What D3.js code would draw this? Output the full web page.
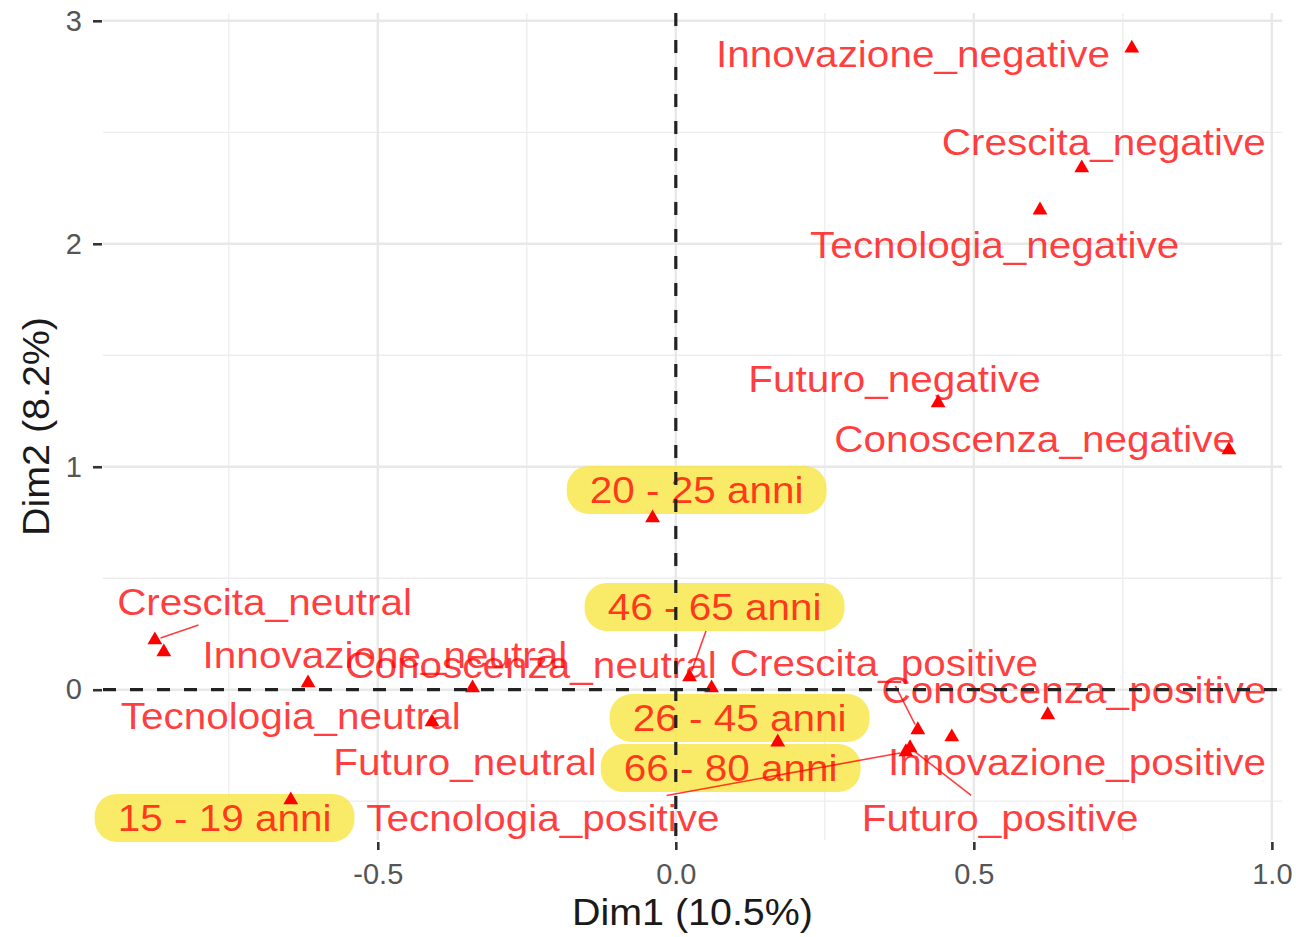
<!DOCTYPE html>
<html>
<head>
<meta charset="utf-8">
<script src="https://cdn.jsdelivr.net/npm/d3@7"></script>
<style>
  body { margin: 0; background: #fff; }
  svg { display: block; font-family: "Liberation Sans", Arial, sans-serif; }
</style>
</head>
<body>
<svg id="factor-map" width="1296" height="937"></svg>
<script>
"use strict";

// category labels, MCA coordinates and where the repelled label sits
const names = [
    "Innovazione_negative", "Crescita_negative", "Tecnologia_negative", "Futuro_negative", "Conoscenza_negative",
    "Crescita_neutral", "Innovazione_neutral", "Tecnologia_neutral", "Conoscenza_neutral", "Futuro_neutral",
    "Crescita_positive", "Conoscenza_positive", "Innovazione_positive", "Futuro_positive", "Tecnologia_positive",
    "15 - 19 anni", "20 - 25 anni", "26 - 45 anni", "46 - 65 anni", "66 - 80 anni"
];
const dim1 = [0.765, 0.681, 0.611, 0.440, 0.928,
    -0.874, -0.859, -0.617, -0.341, -0.409,
    0.406, 0.060, 0.624, 0.393, 0.386,
    -0.646, -0.039, 0.171, 0.023, 0.463];
const dim2 = [2.877, 2.340, 2.151, 1.286, 1.075,
    0.223, 0.169, 0.030, 0.008, -0.145,
    -0.180, 0.008, -0.113, -0.261, -0.279,
    -0.495, 0.770, -0.235, 0.057, -0.212];
const labelDim1 = [0.398, 0.718, 0.535, 0.367, 0.602,
    -0.690, -0.488, -0.646, -0.243, -0.354,
    0.349, 0.668, 0.673, 0.544, -0.223,
    -0.757, 0.035, 0.107, 0.065, 0.092];
const labelDim2 = [2.850, 2.456, 1.994, 1.393, 1.124,
    0.393, 0.155, -0.118, 0.111, -0.324,
    0.120, 0.000, -0.324, -0.575, -0.575,
    -0.575, 0.896, -0.127, 0.371, -0.351];
const isAgeGroup = [false, false, false, false, false,
    false, false, false, false, false,
    false, false, false, false, false,
    true, true, true, true, true];
const hasSegment = [false, false, false, false, false,
    true, false, false, false, false,
    true, false, false, true, true,
    false, false, false, true, false];

const xLimits = [-0.961, 1.017];
const yLimits = [-0.674, 3.035];
const xTicks = [-0.5, 0, 0.5, 1.0];
const yTicks = [0, 1, 2, 3];
const xMinor = [-0.75, -0.25, 0.25, 0.75];
const yMinor = [-0.5, 0.5, 1.5, 2.5];
const xTitle = "Dim1 (10.5%)";
const yTitle = "Dim2 (8.2%)";

const panelLeft = 103, panelRight = 1282, panelTop = 13, panelBottom = 840;
const stretch = 1.08;   // text in the original is a bit wider than the font

const svg = d3.select("svg#factor-map");

const xScale = d3.scaleLinear().domain(xLimits).range([panelLeft, panelRight]);
const yScale = d3.scaleLinear().domain(yLimits).range([panelBottom, panelTop]);

const rows = names.map((name, i) => ({
    name: name,
    x: dim1[i], y: dim2[i],
    lx: labelDim1[i], ly: labelDim2[i],
    boxed: isAgeGroup[i], seg: hasSegment[i]
}));

// grid
const grid = svg.append("g");
grid.selectAll("line.vminor").data(xMinor).join("line")
    .attr("x1", d => xScale(d)).attr("x2", d => xScale(d))
    .attr("y1", panelTop).attr("y2", panelBottom)
    .attr("stroke", "#ededed").attr("stroke-width", 1.3);
grid.selectAll("line.hminor").data(yMinor).join("line")
    .attr("y1", d => yScale(d)).attr("y2", d => yScale(d))
    .attr("x1", panelLeft).attr("x2", panelRight)
    .attr("stroke", "#ededed").attr("stroke-width", 1.3);
grid.selectAll("line.vmajor").data(xTicks).join("line")
    .attr("x1", d => xScale(d)).attr("x2", d => xScale(d))
    .attr("y1", panelTop).attr("y2", panelBottom)
    .attr("stroke", "#e8e8e8").attr("stroke-width", 2.4);
grid.selectAll("line.hmajor").data(yTicks).join("line")
    .attr("y1", d => yScale(d)).attr("y2", d => yScale(d))
    .attr("x1", panelLeft).attr("x2", panelRight)
    .attr("stroke", "#e8e8e8").attr("stroke-width", 2.4);

// axes
const xAxis = svg.append("g")
    .attr("transform", `translate(0,${panelBottom + 2})`)
    .call(d3.axisBottom(xScale).tickValues(xTicks).tickFormat(d => d.toFixed(1)).tickSize(8).tickPadding(13));
const yAxis = svg.append("g")
    .attr("transform", `translate(${panelLeft - 1},0)`)
    .call(d3.axisLeft(yScale).tickValues(yTicks).tickFormat(d => String(d)).tickSize(9).tickPadding(11));
[xAxis, yAxis].forEach(ax => {
    ax.select(".domain").remove();
    ax.selectAll(".tick line").attr("stroke", "#333").attr("stroke-width", 2.6);
    ax.selectAll(".tick text")
        .attr("fill", "#555")
        .style("font-size", "29px")
        .style("font-family", "'Liberation Sans', Arial, sans-serif");
});

svg.append("text")
    .attr("transform", `translate(${(panelLeft + panelRight) / 2},912) scale(${stretch},1)`)
    .attr("text-anchor", "middle").attr("dy", "0.35em")
    .attr("fill", "#1a1a1a").style("font-size", "36.5px")
    .text(xTitle);
svg.append("text")
    .attr("transform", `translate(36,${(panelTop + panelBottom) / 2}) rotate(-90) scale(${stretch},1)`)
    .attr("text-anchor", "middle").attr("dy", "0.35em")
    .attr("fill", "#1a1a1a").style("font-size", "36.5px")
    .text(yTitle);

const boxLayer = svg.append("g");
const pointLayer = svg.append("g");
const textLayer = svg.append("g");
const segLayer = svg.append("g");
const refLayer = svg.append("g");

// labels first, so the boxes can be sized from them
const labels = textLayer.selectAll("text").data(rows).join("text")
    .attr("transform", d => `translate(${xScale(d.lx)},${yScale(d.ly)}) scale(${stretch},1)`)
    .attr("text-anchor", "middle")
    .attr("dy", "0.35em")
    .attr("fill", "#ff0000")
    .attr("fill-opacity", 0.76)
    .style("font-size", "37.5px")
    .text(d => d.name);

labels.each(function(d) {
    const bb = this.getBBox();
    const cx = xScale(d.lx), cy = yScale(d.ly);
    d.cx = cx;
    d.cy = cy;
    if (d.boxed) {
        d.box = {
            x0: cx + bb.x * stretch - 23,
            x1: cx + (bb.x + bb.width) * stretch + 23,
            y0: cy - 24,
            y1: cy + 24
        };
    } else {
        d.box = {
            x0: cx + bb.x * stretch - 3,
            x1: cx + (bb.x + bb.width) * stretch + 3,
            y0: cy + bb.y - 2,
            y1: cy + bb.y + bb.height + 2
        };
    }
});

boxLayer.selectAll("rect").data(rows.filter(d => d.boxed)).join("rect")
    .attr("x", d => d.box.x0)
    .attr("y", d => d.box.y0)
    .attr("width", d => d.box.x1 - d.box.x0)
    .attr("height", d => d.box.y1 - d.box.y0)
    .attr("rx", 22).attr("ry", 22)
    .attr("fill", "#f8e646")
    .attr("fill-opacity", 0.82);

pointLayer.selectAll("path").data(rows).join("path")
    .attr("transform", d => `translate(${xScale(d.x)},${yScale(d.y)})`)
    .attr("d", d3.symbol(d3.symbolTriangle, 95))
    .attr("fill", "#ff0000");

// where the line from a point to its label centre enters the label box
function entryParam(p, c, lo, hi) {
    if (p < lo) return (lo - p) / (c - p);
    if (p > hi) return (hi - p) / (c - p);
    return 0;
}

segLayer.selectAll("line").data(rows.filter(d => d.seg)).join("line")
    .each(function(d) {
        const px = xScale(d.x), py = yScale(d.y);
        const t = Math.max(entryParam(px, d.cx, d.box.x0, d.box.x1),
                           entryParam(py, d.cy, d.box.y0, d.box.y1));
        const ex = px + (d.cx - px) * t, ey = py + (d.cy - py) * t;
        const len = Math.hypot(ex - px, ey - py);
        const k = len > 0 ? 6 / len : 0;
        d3.select(this)
            .attr("x1", px + (ex - px) * k).attr("y1", py + (ey - py) * k)
            .attr("x2", ex).attr("y2", ey);
    })
    .attr("stroke", "#ff0000")
    .attr("stroke-opacity", 0.76)
    .attr("stroke-width", 1.6);

// dashed reference lines at the origin
refLayer.append("line")
    .attr("x1", xScale(0)).attr("x2", xScale(0))
    .attr("y1", panelTop).attr("y2", panelBottom)
    .attr("stroke", "#222").attr("stroke-width", 3.2).attr("stroke-dasharray", "13,14");
refLayer.append("line")
    .attr("x1", panelLeft).attr("x2", panelRight)
    .attr("y1", yScale(0)).attr("y2", yScale(0))
    .attr("stroke", "#222").attr("stroke-width", 3.2).attr("stroke-dasharray", "13,14");
</script>
</body>
</html>
